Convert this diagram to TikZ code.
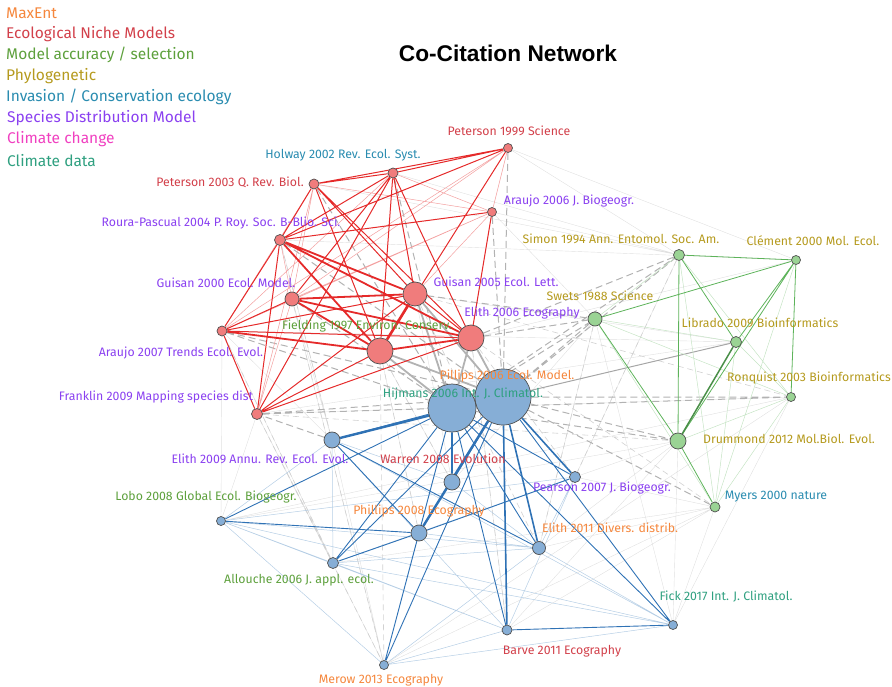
\documentclass[tikz,border=0pt]{standalone}
\usepackage{fontspec}
\setmainfont{Fira Sans}
\newfontfamily\titlefont{Liberation Sans}
\pgfdeclarelayer{edges}
\pgfsetlayers{edges,main}

% Topic colours
\definecolor{maxentcol}{HTML}{F5873D}
\definecolor{nichecol}{HTML}{D2404A}
\definecolor{accuracycol}{HTML}{5DA03C}
\definecolor{phylocol}{HTML}{B59A1E}
\definecolor{invasioncol}{HTML}{2A8CB0}
\definecolor{sdmcol}{HTML}{8A40F0}
\definecolor{climchangecol}{HTML}{F040C0}
\definecolor{climdatacol}{HTML}{2FA080}
% Node and link colours
\definecolor{redfill}{HTML}{F07C7C}
\definecolor{bluefill}{HTML}{86AED6}
\definecolor{greenfill}{HTML}{9AD394}
\definecolor{nodeborder}{HTML}{505050}
\definecolor{redlink}{HTML}{E52A2A}
\definecolor{bluelink}{HTML}{2F72B5}
\definecolor{greenlink}{HTML}{5DB35A}

\begin{document}
\begin{tikzpicture}[x=1pt, y=-1pt,
  rnode/.style={circle, draw=nodeborder, line width=0.7pt, fill=redfill, inner sep=0pt},
  bnode/.style={circle, draw=nodeborder, line width=0.7pt, fill=bluefill, inner sep=0pt},
  gnode/.style={circle, draw=nodeborder, line width=0.7pt, fill=greenfill, inner sep=0pt},
  lab/.style={font=\fontsize{12.3}{14}\selectfont, inner sep=0pt},
  legend/.style={font=\fontsize{15.5}{18}\selectfont, anchor=west, inner sep=0pt},
  redweak/.style={redlink!45, line width=0.5pt},
  redline/.style={redlink, line width=1pt},
  redbold/.style={redlink, line width=1.8pt},
  redheavy/.style={redlink, line width=2.6pt},
  blueweak/.style={bluelink!35, line width=0.5pt},
  blueline/.style={bluelink, line width=0.9pt},
  bluebold/.style={bluelink, line width=1.6pt},
  blueheavy/.style={bluelink, line width=2.4pt},
  greenweak/.style={greenlink!35, line width=0.5pt},
  greenline/.style={greenlink, line width=0.8pt},
  greenbold/.style={greenlink!80!black, line width=1.5pt},
  greydash/.style={black!30, dashed, dash pattern=on 7pt off 4pt, line width=1pt},
  greylight/.style={black!18, dashed, dash pattern=on 6pt off 4pt, line width=0.6pt},
  greybold/.style={black!30, line width=1.8pt},
  faint/.style={black!12, line width=0.4pt}]

  \useasboundingbox (0,0) rectangle (892,687);

  % Legend
  \node[legend, maxentcol] (lgmaxent) at (6,13) {MaxEnt};
  \node[legend, nichecol] (lgniche) at (6,34) {Ecological Niche Models};
  \node[legend, accuracycol] (lgaccuracy) at (6,55) {Model accuracy / selection};
  \node[legend, phylocol] (lgphylo) at (6,76) {Phylogenetic};
  \node[legend, invasioncol] (lginvasion) at (6,97) {Invasion / Conservation ecology};
  \node[legend, sdmcol] (lgsdm) at (7,118) {Species Distribution Model};
  \node[legend, climchangecol] (lgclimchange) at (7,139) {Climate change};
  \node[legend, climdatacol] (lgclimdata) at (7,161) {Climate data};

  % Title
  \node[font=\titlefont\bfseries\fontsize{22.7}{26}\selectfont] (title) at (508,53) {Co-Citation Network};

  % Red cluster
  \node[rnode, minimum size=9pt] (p99) at (508,148) {};
  \node[rnode, minimum size=10pt] (hol02) at (393,173) {};
  \node[rnode, minimum size=10pt] (pet03) at (314,184) {};
  \node[rnode, minimum size=9pt] (ara06) at (492,212) {};
  \node[rnode, minimum size=11pt] (rou04) at (280,240) {};
  \node[rnode, minimum size=14pt] (gui00) at (292,299) {};
  \node[rnode, minimum size=24pt] (gui05) at (415,294) {};
  \node[rnode, minimum size=26pt] (eli06) at (471,338) {};
  \node[rnode, minimum size=10pt] (ara07) at (222,331) {};
  \node[rnode, minimum size=26pt] (fie97) at (380,351) {};
  \node[rnode, minimum size=11pt] (fra09) at (257,414) {};

  % Blue cluster
  \node[bnode, minimum size=56pt] (phi06) at (503,397) {};
  \node[bnode, minimum size=48pt] (hij06) at (452,408) {};
  \node[bnode, minimum size=16pt] (eli09) at (332,440) {};
  \node[bnode, minimum size=16pt] (war08) at (452,482) {};
  \node[bnode, minimum size=11pt] (pea07) at (575,477) {};
  \node[bnode, minimum size=9pt] (lob08) at (221,521) {};
  \node[bnode, minimum size=16pt] (phi08) at (419,533) {};
  \node[bnode, minimum size=13pt] (eli11) at (539,548) {};
  \node[bnode, minimum size=11pt] (all06) at (333,563) {};
  \node[bnode, minimum size=9pt] (fic17) at (673,625) {};
  \node[bnode, minimum size=10pt] (bar11) at (507,630) {};
  \node[bnode, minimum size=9pt] (mer13) at (384,665) {};

  % Green cluster
  \node[gnode, minimum size=11pt] (sim94) at (679,255) {};
  \node[gnode, minimum size=9pt] (cle00) at (796,260) {};
  \node[gnode, minimum size=14pt] (swe88) at (595,319) {};
  \node[gnode, minimum size=11pt] (lib09) at (736,342) {};
  \node[gnode, minimum size=9pt] (ron03) at (791,397) {};
  \node[gnode, minimum size=16pt] (dru12) at (678,441) {};
  \node[gnode, minimum size=10pt] (mye00) at (715,507) {};

  \begin{pgfonlayer}{edges}
    % Faint background links
    \draw[faint] (mer13) -- (fra09) (mer13) -- (eli09) (lob08) -- (fra09) (all06) -- (fra09)
      (fic17) -- (mye00) (fic17) -- (dru12) (bar11) -- (mye00) (eli11) -- (mye00)
      (pea07) -- (mye00) (pea07) -- (dru12) (eli11) -- (dru12) (pea07) -- (sim94)
      (eli11) -- (swe88) (war08) -- (swe88) (war08) -- (fie97) (eli09) -- (gui00)
      (eli09) -- (ara07) (eli09) -- (rou04) (all06) -- (ara07) (lob08) -- (ara07)
      (mer13) -- (gui00) (phi08) -- (fie97) (war08) -- (gui05) (bar11) -- (eli06)
      (fic17) -- (swe88) (mer13) -- (ron03) (lob08) -- (ron03) (all06) -- (mye00)
      (fra09) -- (ron03) (ara07) -- (lib09) (rou04) -- (cle00) (pet03) -- (sim94)
      (hol02) -- (sim94) (p99) -- (cle00) (ara06) -- (swe88) (gui05) -- (lib09)
      (eli06) -- (cle00) (fic17) -- (ron03) (bar11) -- (dru12) (mer13) -- (mye00)
      (lob08) -- (dru12) (fra09) -- (lib09) (p99) -- (sim94) (ara06) -- (sim94);

    % Red to blue and green links
    \draw[greylight] (fra09) -- (all06) (fra09) -- (mer13) (ara07) -- (all06) (gui00) -- (mer13)
      (rou04) -- (eli09) (fie97) -- (phi08) (fie97) -- (mer13) (eli06) -- (bar11)
      (gui05) -- (eli11) (eli06) -- (pea07) (fie97) -- (war08) (eli06) -- (mye00)
      (swe88) -- (eli11) (sim94) -- (pea07) (gui05) -- (ron03) (fra09) -- (dru12);
    \draw[greydash] (p99) -- (phi06) (pet03) -- (hij06) (rou04) -- (phi06) (gui00) -- (hij06)
      (ara07) -- (hij06) (ara07) -- (phi06) (fra09) -- (hij06) (fra09) -- (phi06)
      (hol02) -- (hij06) (ara06) -- (phi06) (phi06) -- (sim94) (hij06) -- (sim94)
      (phi06) -- (swe88) (hij06) -- (swe88) (phi06) -- (ron03) (hij06) -- (ron03)
      (phi06) -- (dru12) (hij06) -- (dru12) (phi06) -- (mye00) (eli06) -- (swe88)
      (gui05) -- (swe88) (eli06) -- (sim94) (eli09) -- (fra09);
    \draw[greybold] (gui05) -- (phi06) (eli06) -- (phi06) (fie97) -- (hij06) (gui05) -- (hij06)
      (eli06) -- (hij06) (fie97) -- (phi06);
    \draw[black!35, line width=1pt] (phi06) -- (lib09);

    % Red cluster links
    \draw[redweak] (p99) -- (gui00) (p99) -- (ara07) (p99) -- (ara06) (pet03) -- (ara06)
      (pet03) -- (ara07) (hol02) -- (ara06) (hol02) -- (ara07) (gui00) -- (pet03)
      (fra09) -- (gui00) (fra09) -- (pet03) (ara06) -- (ara07) (ara06) -- (gui05)
      (rou04) -- (gui00) (ara06) -- (gui00);
    \draw[redline] (hol02) -- (fie97) (hol02) -- (gui05) (hol02) -- (eli06) (hol02) -- (rou04)
      (hol02) -- (p99) (hol02) -- (pet03) (hol02) -- (gui00) (pet03) -- (fie97)
      (pet03) -- (gui05) (pet03) -- (eli06) (pet03) -- (rou04) (p99) -- (fie97)
      (p99) -- (pet03) (p99) -- (rou04) (ara06) -- (eli06) (ara06) -- (rou04)
      (ara07) -- (rou04) (ara07) -- (gui00) (ara07) -- (fra09) (fra09) -- (rou04)
      (fra09) -- (gui05) (fra09) -- (eli06) (fra09) -- (fie97) (fra09) -- (hol02)
      (gui05) -- (eli06) (ara07) -- (gui05) (ara07) -- (eli06);
    \draw[redbold] (rou04) -- (gui05) (rou04) -- (eli06) (rou04) -- (fie97) (gui00) -- (gui05)
      (gui00) -- (eli06) (gui00) -- (fie97) (fie97) -- (eli06) (ara07) -- (fie97);
    \draw[redheavy] (fie97) -- (gui05);

    % Blue cluster links
    \draw[blueweak] (lob08) -- (eli11) (lob08) -- (all06) (all06) -- (eli11) (bar11) -- (mer13)
      (mer13) -- (fic17) (lob08) -- (bar11) (all06) -- (bar11) (eli09) -- (bar11)
      (eli09) -- (war08) (war08) -- (eli11) (war08) -- (phi08) (phi08) -- (eli11)
      (pea07) -- (eli11) (pea07) -- (bar11) (fic17) -- (eli11) (lob08) -- (pea07)
      (all06) -- (pea07) (mer13) -- (eli11) (lob08) -- (mer13) (eli09) -- (all06)
      (eli09) -- (lob08) (eli09) -- (fic17) (lob08) -- (fic17) (all06) -- (fic17);
    \draw[blueline] (all06) -- (hij06) (all06) -- (phi06) (mer13) -- (hij06) (mer13) -- (phi06)
      (fic17) -- (phi06) (bar11) -- (hij06) (lob08) -- (hij06) (eli09) -- (phi08)
      (eli09) -- (eli11) (phi08) -- (hij06) (eli11) -- (hij06) (pea07) -- (hij06)
      (fic17) -- (bar11) (lob08) -- (phi08) (all06) -- (phi08) (war08) -- (phi06)
      (eli09) -- (hij06) (phi08) -- (pea07) (mer13) -- (phi08) (fic17) -- (hij06);
    \draw[bluebold] (war08) -- (hij06) (eli11) -- (phi06) (pea07) -- (phi06) (bar11) -- (phi06);
    \draw[blueheavy] (phi08) -- (phi06) (eli09) -- (phi06);

    % Green cluster links
    \draw[greenweak] (sim94) -- (swe88) (swe88) -- (lib09) (sim94) -- (mye00) (lib09) -- (ron03)
      (lib09) -- (mye00) (cle00) -- (mye00) (ron03) -- (dru12) (ron03) -- (mye00)
      (sim94) -- (ron03) (swe88) -- (mye00) (swe88) -- (ron03);
    \draw[greenline] (sim94) -- (cle00) (sim94) -- (dru12) (cle00) -- (dru12) (cle00) -- (ron03)
      (swe88) -- (dru12) (swe88) -- (cle00) (dru12) -- (mye00) (cle00) -- (lib09)
      (sim94) -- (lib09);
    \draw[greenbold] (lib09) -- (dru12);
  \end{pgfonlayer}

  % Labels, red cluster
  \node[lab, nichecol] (p99lab) at (509,131) {Peterson 1999 Science};
  \node[lab, invasioncol] (hol02lab) at (343,155) {Holway 2002 Rev. Ecol. Syst.};
  \node[lab, nichecol] (pet03lab) at (230,182) {Peterson 2003 Q. Rev. Biol.};
  \node[lab, sdmcol] (ara06lab) at (569,201) {Araujo 2006 J. Biogeogr.};
  \node[lab, sdmcol] (rou04lab) at (221,223) {Roura-Pascual 2004 P. Roy. Soc. B-Blio. Sci.};
  \node[lab, sdmcol] (gui00lab) at (226,283) {Guisan 2000 Ecol. Model.};
  \node[lab, sdmcol] (gui05lab) at (496,282) {Guisan 2005 Ecol. Lett.};
  \node[lab, sdmcol] (eli06lab) at (522,313) {Elith 2006 Ecography};
  \node[lab, accuracycol] (fie97lab) at (367,326) {Fielding 1997 Environ. Conserv.};
  \node[lab, sdmcol] (ara07lab) at (181,353) {Araujo 2007 Trends Ecol. Evol.};
  \node[lab, sdmcol] (fra09lab) at (156,397) {Franklin 2009 Mapping species dist};

  % Labels, blue cluster
  \node[lab, maxentcol] (phi06lab) at (507,376) {Pillips 2006 Ecol. Model.};
  \node[lab, climdatacol] (hij06lab) at (463,394) {Hijmans 2006 Int. J. Climatol.};
  \node[lab, sdmcol] (eli09lab) at (260,459) {Elith 2009 Annu. Rev. Ecol. Evol.};
  \node[lab, nichecol] (war08lab) at (443,459) {Warren 2008 Evolution};
  \node[lab, sdmcol] (pea07lab) at (602,488) {Pearson 2007 J. Biogeogr.};
  \node[lab, accuracycol] (lob08lab) at (206,497) {Lobo 2008 Global Ecol. Biogeogr.};
  \node[lab, maxentcol] (phi08lab) at (419,511) {Phillips 2008 Ecography};
  \node[lab, maxentcol] (eli11lab) at (610,528) {Elith 2011 Divers. distrib.};
  \node[lab, accuracycol] (all06lab) at (299,580) {Allouche 2006 J. appl. ecol.};
  \node[lab, climdatacol] (fic17lab) at (726,597) {Fick 2017 Int. J. Climatol.};
  \node[lab, nichecol] (bar11lab) at (562,651) {Barve 2011 Ecography};
  \node[lab, maxentcol] (mer13lab) at (381,680) {Merow 2013 Ecography};

  % Labels, green cluster
  \node[lab, phylocol] (sim94lab) at (621,239) {Simon 1994 Ann. Entomol. Soc. Am.};
  \node[lab, phylocol] (cle00lab) at (813,241) {Clément 2000 Mol. Ecol.};
  \node[lab, phylocol] (swe88lab) at (600,296) {Swets 1988 Science};
  \node[lab, phylocol] (lib09lab) at (760,323) {Librado 2009 Bioinformatics};
  \node[lab, phylocol] (ron03lab) at (809,378) {Ronquist 2003 Bioinformatics};
  \node[lab, phylocol] (dru12lab) at (789,439) {Drummond 2012 Mol.Biol. Evol.};
  \node[lab, invasioncol] (mye00lab) at (776,497) {Myers 2000 nature};
\end{tikzpicture}
\end{document}
